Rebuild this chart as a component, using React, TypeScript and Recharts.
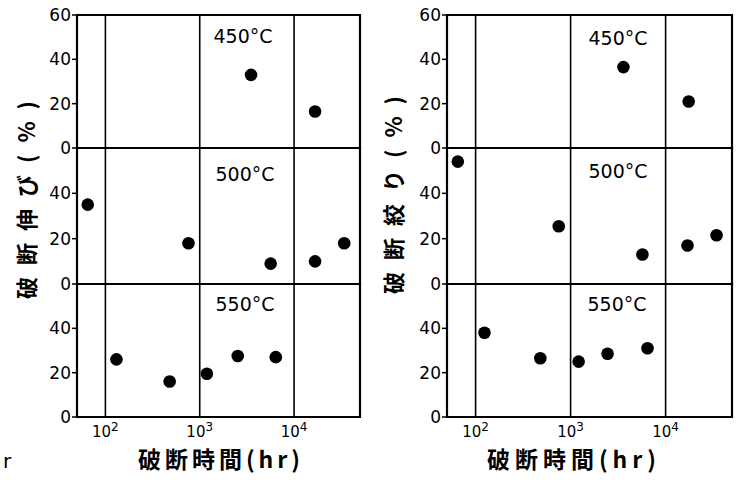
import React from 'react';
import { ScatterChart, Scatter, XAxis, YAxis, ReferenceLine, ReferenceArea } from 'recharts';

// rupture time (hr) vs elongation (%)
const elong450 = [ { t: 3500, v: 33 }, { t: 16700, v: 16.5 } ];
const elong500 = [ { t: 65, v: 35 }, { t: 760, v: 18 }, { t: 5650, v: 9 }, { t: 16700, v: 10 }, { t: 34000, v: 18 } ];
const elong550 = [ { t: 131, v: 26 }, { t: 480, v: 16 }, { t: 1190, v: 19.5 }, { t: 2530, v: 27.5 }, { t: 6400, v: 27 } ];

// rupture time (hr) vs reduction of area (%)
const reduct450 = [ { t: 3600, v: 36.5 }, { t: 17500, v: 21 } ];
const reduct500 = [ { t: 65, v: 54 }, { t: 750, v: 25.5 }, { t: 5700, v: 13 }, { t: 17000, v: 17 }, { t: 34400, v: 21.5 } ];
const reduct550 = [ { t: 124, v: 38 }, { t: 480, v: 26.5 }, { t: 1215, v: 25 }, { t: 2450, v: 28.5 }, { t: 6450, v: 31 } ];

const xDomain = [50, 50000];
const xTicks = [100, 1000, 10000];
const xTickExponents = ['2', '3', '4'];
const yTicksTop = [0, 20, 40, 60];
const yTicks = [0, 20, 40];
const tempLabels = ['450°C', '500°C', '550°C'];
const yTitles = ['破断伸び(%)', '破断絞り(%)'];
const xTitle = '破断時間(hr)';

const tickFont = { fill: '#000', fontSize: 17, fontFamily: 'DejaVu Sans' };

function Dot(p: any) {
  return <circle cx={p.cx} cy={p.cy} r={6.3} fill="#000" />;
}

function PowerTick(p: any) {
  const i = xTicks.indexOf(p.payload.value);
  return (
    <text x={p.x} y={p.y + 12} textAnchor="middle" style={{ fontFamily: 'DejaVu Sans', fontSize: 15, fill: '#000' }}>
      <tspan>10</tspan>
      <tspan dy={-6} fontSize={12}>{xTickExponents[i]}</tspan>
    </text>
  );
}

function SubPanel({ data, plotLeft, plotTop, plotW, plotH, ticks, showX }: any) {
  const yAxisW = 50;
  const mTop = 12;
  const mBottom = 14;
  const xH = showX ? 30 : 0;
  return (
    <div style={{ position: 'absolute', left: plotLeft - yAxisW, top: plotTop - mTop }}>
      <ScatterChart
        width={yAxisW + plotW + 4}
        height={mTop + plotH + mBottom + xH}
        margin={{ top: mTop, right: 4, bottom: mBottom, left: 0 }}
        style={{ overflow: 'visible' }}
      >
        <XAxis
          dataKey="t"
          type="number"
          scale="log"
          domain={xDomain}
          ticks={xTicks}
          allowDataOverflow
          hide={!showX}
          height={xH || 30}
          axisLine={false}
          tickLine={false}
          interval={0}
          tick={PowerTick}
        />
        <YAxis
          dataKey="v"
          type="number"
          domain={[0, 60]}
          ticks={ticks}
          allowDataOverflow
          width={yAxisW}
          axisLine={false}
          tickLine={{ stroke: '#000', strokeWidth: 1.5 }}
          tickSize={5}
          tickMargin={1}
          interval={0}
          tick={tickFont}
        />
        {xTicks.map((x) => (
          <ReferenceLine key={x} x={x} stroke="#000" strokeWidth={1.6} />
        ))}
        <ReferenceArea x1={xDomain[0]} x2={xDomain[1]} y1={0} y2={60} fill="none" fillOpacity={0} stroke="#000" strokeWidth={2.2} />
        <Scatter data={data} fill="#000" shape={Dot} isAnimationActive={false} />
      </ScatterChart>
    </div>
  );
}

function Panel({ series, plotLeft, plotW }: any) {
  const tops = [15, 148, 284];
  const heights = [133, 136, 133];
  return (
    <>
      {series.map((d: any, i: number) => (
        <SubPanel
          key={i}
          data={d}
          plotLeft={plotLeft}
          plotTop={tops[i]}
          plotW={plotW}
          plotH={heights[i]}
          ticks={i === 0 ? yTicksTop : yTicks}
          showX={i === 2}
        />
      ))}
    </>
  );
}

export default function App() {
  const cjk = "'Noto Sans CJK JP', sans-serif";
  const tempStyle = { fontFamily: 'DejaVu Sans', fontSize: 19, fill: '#000' };
  return (
    <div style={{ position: 'absolute', left: 0, top: 0, width: 739, height: 485, background: '#fff', overflow: 'hidden' }}>
      <Panel series={[elong450, elong500, elong550]} plotLeft={77} plotW={283} />
      <Panel series={[reduct450, reduct500, reduct550]} plotLeft={447} plotW={285} />
      <svg width={739} height={485} style={{ position: 'absolute', left: 0, top: 0, pointerEvents: 'none' }}>
        {/* temperature annotations */}
        <text x={243} y={43} textAnchor="middle" style={tempStyle}>{tempLabels[0]}</text>
        <text x={245} y={181} textAnchor="middle" style={tempStyle}>{tempLabels[1]}</text>
        <text x={245} y={311} textAnchor="middle" style={tempStyle}>{tempLabels[2]}</text>
        <text x={618} y={45} textAnchor="middle" style={tempStyle}>{tempLabels[0]}</text>
        <text x={618} y={178} textAnchor="middle" style={tempStyle}>{tempLabels[1]}</text>
        <text x={617} y={311} textAnchor="middle" style={tempStyle}>{tempLabels[2]}</text>
        {/* y titles */}
        <text x={25} y={194} textAnchor="middle" dominantBaseline="central" transform="rotate(-90 25 194)"
          style={{ fontFamily: cjk, fontWeight: 700, fontSize: 22, letterSpacing: 12, fill: '#000' }}>{yTitles[0]}</text>
        <text x={392} y={189} textAnchor="middle" dominantBaseline="central" transform="rotate(-90 392 189)"
          style={{ fontFamily: cjk, fontWeight: 700, fontSize: 22, letterSpacing: 12, fill: '#000' }}>{yTitles[1]}</text>
        {/* x titles */}
        <text x={221} y={468} textAnchor="middle"
          style={{ fontFamily: cjk, fontWeight: 700, fontSize: 23, letterSpacing: 4, fill: '#000' }}>{xTitle}</text>
        <text x={574} y={468} textAnchor="middle"
          style={{ fontFamily: cjk, fontWeight: 700, fontSize: 23, letterSpacing: 5, fill: '#000' }}>{xTitle}</text>
        <text x={3} y={468} style={{ fontFamily: 'DejaVu Sans', fontSize: 20, fill: '#000' }}>r</text>
      </svg>
    </div>
  );
}
